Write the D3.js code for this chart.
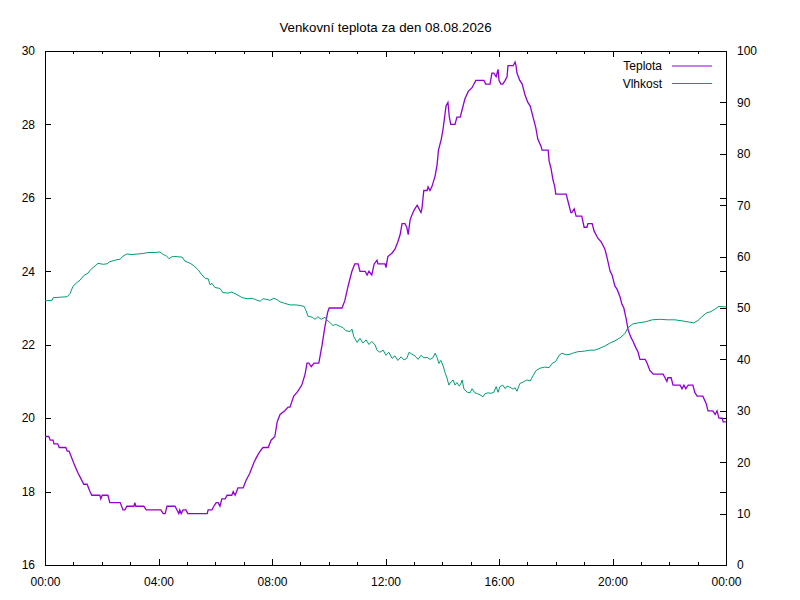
<!DOCTYPE html>
<html>
<head>
<meta charset="utf-8">
<style>
body { margin: 0; background: #fff; }
svg { font-family: "Liberation Sans", Arial, sans-serif; font-size: 12px; }
.tick line { stroke: #000; }
.tick text { fill: #000; font-size: 12px; }
.title { font-size: 13.3px; }
</style>
<script src="https://cdnjs.cloudflare.com/ajax/libs/d3/7.8.5/d3.min.js"></script>
</head>
<body>
<svg width="800" height="600"></svg>
<script>

// time of the reading (HH:MM) and outdoor temperature in degrees C
var tempTimes = ["00:00","00:08","00:11","00:17","00:19","00:27","00:30","00:44","00:47","00:51","00:57","01:03","01:10","01:14","01:22","01:29","01:35","01:39","01:56","01:58","02:01","02:13","02:17","02:39","02:45","02:49","02:53","03:08","03:10","03:12","03:29","03:34","04:05","04:10","04:14","04:18","04:35","04:39","04:43","04:45","04:48","04:52","04:58","05:02","05:43","05:45","05:53","05:57","06:02","06:06","06:10","06:14","06:21","06:25","06:35","06:38","06:42","06:48","06:59","07:05","07:13","07:22","07:30","07:35","07:41","07:52","07:58","08:06","08:11","08:17","08:27","08:34","08:38","08:46","08:53","09:03","09:10","09:14","09:18","09:23","09:29","09:39","09:46","09:52","09:58","10:01","10:28","10:34","10:41","10:49","10:55","11:02","11:06","11:17","11:21","11:25","11:31","11:36","11:42","11:44","11:59","12:01","12:05","12:14","12:20","12:26","12:31","12:35","12:41","12:45","12:48","12:52","12:58","13:02","13:07","13:11","13:15","13:17","13:21","13:28","13:30","13:34","13:38","13:45","13:49","13:52","13:58","14:02","14:06","14:08","14:12","14:15","14:18","14:27","14:31","14:38","14:42","14:48","14:55","15:03","15:07","15:11","15:24","15:28","15:32","15:41","15:45","15:49","15:54","15:58","16:00","16:04","16:08","16:13","16:17","16:19","16:30","16:34","16:36","16:38","16:44","16:49","16:55","17:01","17:06","17:12","17:18","17:22","17:29","17:31","17:44","17:46","17:50","17:54","17:58","18:00","18:22","18:26","18:32","18:34","18:39","18:43","18:55","19:00","19:06","19:08","19:17","19:21","19:29","19:36","19:44","19:48","19:55","19:59","20:05","20:10","20:16","20:20","20:24","20:29","20:33","20:39","20:43","20:50","20:54","20:58","21:09","21:13","21:19","21:26","21:47","21:51","21:55","21:57","22:04","22:08","22:23","22:27","22:31","22:35","22:40","22:50","22:54","22:59","23:11","23:18","23:22","23:32","23:37","23:41","23:45","23:52","23:54","24:00"];
var tempValues = [19.5,19.5,19.4,19.4,19.3,19.3,19.2,19.2,19.1,19.1,18.9,18.7,18.5,18.4,18.2,18.2,18.0,17.9,17.9,17.8,17.9,17.9,17.7,17.7,17.5,17.5,17.6,17.6,17.7,17.6,17.6,17.5,17.5,17.4,17.4,17.6,17.6,17.5,17.4,17.5,17.4,17.5,17.5,17.4,17.4,17.5,17.5,17.6,17.7,17.7,17.6,17.8,17.8,17.9,17.9,18.0,17.9,18.1,18.1,18.3,18.5,18.8,19.0,19.1,19.2,19.2,19.4,19.5,19.9,20.1,20.2,20.3,20.3,20.6,20.7,20.9,21.2,21.5,21.5,21.4,21.5,21.5,22.0,22.5,22.9,23.0,23.0,23.2,23.6,24.0,24.2,24.2,24.0,24.0,23.9,24.0,23.9,24.2,24.3,24.2,24.2,24.1,24.4,24.5,24.6,24.8,25.0,25.3,25.3,25.2,25.0,25.4,25.6,25.7,25.8,25.7,25.6,25.7,26.2,26.2,26.3,26.2,26.3,26.6,26.9,27.3,27.6,27.9,28.3,28.5,28.6,28.2,28.0,28.0,28.2,28.2,28.4,28.7,28.9,29.0,29.1,29.2,29.2,29.2,29.1,29.1,29.4,29.4,29.3,29.5,29.2,29.1,29.1,29.2,29.3,29.6,29.6,29.7,29.6,29.4,29.2,29.1,28.8,28.6,28.5,28.2,27.9,27.6,27.4,27.3,27.3,27.0,26.8,26.5,26.3,26.1,26.1,25.9,25.6,25.6,25.7,25.5,25.5,25.2,25.2,25.3,25.3,25.1,24.9,24.8,24.6,24.4,24.0,23.9,23.6,23.5,23.3,23.1,23.0,22.7,22.4,22.2,22.1,21.9,21.8,21.6,21.6,21.5,21.3,21.2,21.2,21.1,21.0,21.1,21.1,20.9,20.9,20.8,20.9,20.8,20.9,20.9,20.7,20.6,20.6,20.4,20.2,20.2,20.1,20.2,20.0,20.0,19.9,19.9];

// time of the reading (HH:MM) and relative humidity in %
var humTimes = ["00:00","00:15","00:17","00:32","00:47","00:53","00:59","01:08","01:14","01:22","01:31","01:37","01:46","01:52","02:03","02:11","02:17","02:28","02:39","02:45","02:53","03:04","03:15","03:27","03:38","03:53","04:03","04:10","04:16","04:22","04:29","04:37","04:50","04:56","05:07","05:15","05:24","05:32","05:40","05:45","05:49","05:53","05:59","06:10","06:16","06:27","06:35","06:46","06:57","07:09","07:18","07:26","07:35","07:41","07:47","07:56","08:04","08:11","08:17","08:27","08:38","08:51","08:59","09:08","09:12","09:16","09:25","09:31","09:37","09:44","09:52","09:56","10:03","10:09","10:15","10:24","10:30","10:36","10:45","10:49","10:53","11:00","11:06","11:12","11:19","11:25","11:31","11:38","11:42","11:48","11:55","12:01","12:07","12:14","12:20","12:26","12:33","12:39","12:45","12:50","12:56","13:02","13:09","13:15","13:21","13:28","13:34","13:40","13:45","13:49","13:53","13:57","14:02","14:06","14:10","14:14","14:18","14:23","14:27","14:31","14:36","14:40","14:42","14:46","14:53","14:59","15:03","15:09","15:15","15:22","15:26","15:30","15:37","15:43","15:49","15:54","15:58","16:02","16:08","16:13","16:17","16:23","16:30","16:34","16:38","16:44","16:51","16:59","17:06","17:12","17:18","17:27","17:37","17:46","17:52","18:00","18:07","18:13","18:22","18:30","18:39","18:47","19:00","19:12","19:23","19:34","19:44","19:55","20:05","20:16","20:26","20:33","20:43","20:54","21:09","21:24","21:40","21:57","22:12","22:27","22:40","22:52","23:01","23:09","23:18","23:28","23:37","23:45","24:00"];
var humValues = [51.4,51.5,52.0,52.1,52.2,52.8,54.2,55.0,55.4,56.3,56.8,57.5,58.2,58.7,58.5,58.6,59.0,59.3,59.5,60.1,60.5,60.4,60.5,60.6,60.8,60.8,60.9,60.4,60.2,59.6,60.0,60.0,59.9,59.1,58.7,58.2,57.4,56.4,55.7,55.7,54.5,54.8,54.0,53.8,53.0,52.9,53.1,52.6,52.0,51.8,51.9,51.6,51.3,51.8,51.7,51.5,51.9,51.6,51.2,50.9,50.6,50.6,50.5,50.3,49.5,48.4,48.2,47.8,48.3,47.8,48.2,47.7,47.1,46.6,46.8,46.4,46.2,45.6,45.4,45.9,44.4,43.3,44.1,43.2,43.8,42.9,43.5,42.8,41.8,41.4,41.8,40.8,41.4,40.2,40.7,39.8,40.5,39.9,40.2,41.4,41.0,40.7,40.0,40.8,40.3,40.4,40.0,40.3,41.2,40.4,39.2,39.8,38.7,37.4,36.4,35.0,35.6,36.0,35.0,35.5,34.8,35.4,36.0,34.2,33.6,33.5,34.3,33.5,33.3,33.0,32.7,33.3,33.5,33.4,33.6,34.7,33.6,34.7,35.0,34.3,34.8,34.6,34.2,34.5,33.8,35.3,35.6,36.0,35.8,36.8,37.8,38.3,38.5,38.4,39.2,39.6,40.8,41.2,40.9,41.0,41.3,41.5,41.6,41.8,41.8,42.2,42.6,43.2,43.6,44.2,45.0,46.2,46.9,47.1,47.3,47.7,47.8,47.7,47.7,47.5,47.3,47.1,47.6,48.3,49.0,49.3,49.8,50.3,50.2];

var tempTicks = [16, 18, 20, 22, 24, 26, 28, 30];
var humTicks = [0, 10, 20, 30, 40, 50, 60, 70, 80, 90, 100];
var seriesNames = ["Teplota", "Vlhkost"];
var seriesColors = ["#9400d3", "#009e73"];
var title = "Venkovní teplota za den 08.08.2026";

var day = new Date(2026, 7, 8);
function toDate(s) {
  var p = s.split(":");
  return d3.timeMinute.offset(day, (+p[0]) * 60 + (+p[1]));
}

var svg = d3.select("svg"),
    margin = {top: 51, right: 74, bottom: 35, left: 45},
    width = +svg.attr("width") - margin.left - margin.right,
    height = +svg.attr("height") - margin.top - margin.bottom;

var x = d3.scaleTime().domain([day, d3.timeDay.offset(day, 1)]).range([0, width]),
    y = d3.scaleLinear().domain([16, 30]).range([height, 0]),
    y2 = d3.scaleLinear().domain([0, 100]).range([height, 0]);

var g = svg.append("g")
    .attr("transform", "translate(" + margin.left + "," + margin.top + ")");

svg.append("text")
    .attr("class", "title")
    .attr("x", margin.left + width / 2)
    .attr("y", 31.5)
    .attr("text-anchor", "middle")
    .text(title);

// minor hour ticks, bottom and top
g.append("g")
    .attr("transform", "translate(0," + height + ")")
    .call(d3.axisBottom(x).ticks(d3.timeHour.every(1)).tickSize(-3).tickFormat(""));
g.append("g")
    .call(d3.axisTop(x).ticks(d3.timeHour.every(1)).tickSize(-3).tickFormat(""));

// major ticks
g.append("g")
    .attr("class", "axis axis--x")
    .attr("transform", "translate(0," + height + ")")
    .call(d3.axisBottom(x).ticks(d3.timeHour.every(4)).tickSizeInner(-6).tickSizeOuter(0)
      .tickPadding(12).tickFormat(d3.timeFormat("%H:%M")));
g.append("g")
    .call(d3.axisTop(x).ticks(d3.timeHour.every(4)).tickSizeInner(-6).tickSizeOuter(0).tickFormat(""));

g.append("g")
    .attr("class", "axis axis--y")
    .call(d3.axisLeft(y).tickValues(tempTicks).tickSizeInner(-6).tickSizeOuter(0).tickPadding(10));
g.append("g")
    .attr("transform", "translate(" + width + ",0)")
    .call(d3.axisRight(y).tickValues(tempTicks).tickSizeInner(-6).tickSizeOuter(0).tickFormat(""));

g.append("g")
    .attr("class", "axis axis--y2")
    .attr("transform", "translate(" + width + ",0)")
    .call(d3.axisRight(y2).tickValues(humTicks).tickSizeInner(-6).tickSizeOuter(0).tickPadding(11));

g.selectAll(".domain").remove();
g.selectAll(".tick line").attr("shape-rendering", "crispEdges");

g.append("rect")
    .attr("x", 0.5)
    .attr("y", 0.5)
    .attr("width", width)
    .attr("height", height)
    .attr("fill", "none")
    .attr("stroke", "#000")
    .attr("shape-rendering", "crispEdges");

var tempLine = d3.line()
    .x(function(d, i) { return x(toDate(tempTimes[i])); })
    .y(function(d) { return y(d); });
var humLine = d3.line()
    .x(function(d, i) { return x(toDate(humTimes[i])); })
    .y(function(d) { return y2(d); });

g.append("path")
    .datum(tempValues)
    .attr("fill", "none")
    .attr("stroke", seriesColors[0])
    .attr("stroke-width", 1.3)
    .attr("d", tempLine);

g.append("path")
    .datum(humValues)
    .attr("fill", "none")
    .attr("stroke", seriesColors[1])
    .attr("stroke-width", 1)
    .attr("d", humLine);

var legend = svg.append("g")
    .attr("class", "legend")
    .attr("transform", "translate(662,66)");

for (let i in seriesNames) {
  legend.append("text")
    .attr("x", 0)
    .attr("y", i * 17.5)
    .attr("dy", ".35em")
    .attr("text-anchor", "end")
    .text(seriesNames[i]);
  legend.append("line")
    .attr("x1", 10)
    .attr("x2", 50)
    .attr("y1", i * 17.5)
    .attr("y2", i * 17.5)
    .attr("stroke", seriesColors[i])
    .attr("stroke-width", 1);
}

</script>
</body>
</html>
